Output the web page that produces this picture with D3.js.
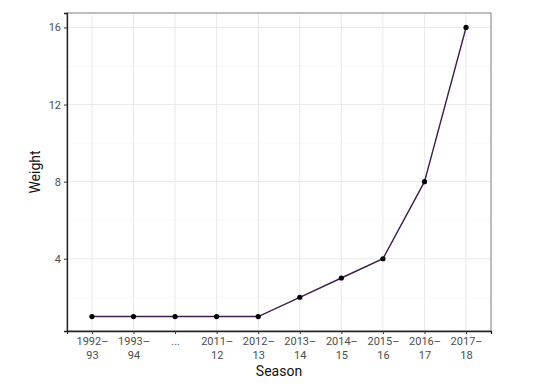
<!DOCTYPE html>
<html>
<head>
<meta charset="utf-8">
<script src="https://cdn.jsdelivr.net/npm/d3@7"></script>
<style>
  body { margin: 0; background: #fff; }
  text { font-family: Roboto, "Noto Sans", sans-serif; }
</style>
</head>
<body>
<div id="chart"></div>
<script>
// seasons (two-line labels) and weights
const seasons = ['1992–|93', '1993–|94', '...', '2011–|12', '2012–|13', '2013–|14', '2014–|15', '2015–|16', '2016–|17', '2017–|18'];
const weights = [1, 1, 1, 1, 1, 2, 3, 4, 8, 16];
const yTicks = [4, 8, 12, 16];
const yMinor = [2, 6, 10, 14];

const width = 554, height = 388;
const margin = { top: 13, right: 63, bottom: 57, left: 67 };
const w = width - margin.left - margin.right;
const h = height - margin.top - margin.bottom;

const svg = d3.select('#chart').append('svg')
  .attr('width', width).attr('height', height);
const g = svg.append('g').attr('transform', `translate(${margin.left},${margin.top})`);

const data = seasons.map((s, i) => ({ season: s, weight: weights[i] }));

// discrete x with ggplot-like expansion
const x = d3.scalePoint().domain(seasons).range([0, w]).padding(0.6);
const y = d3.scaleLinear().domain([0.25, 16.75]).range([h, 0]);

// grid
g.selectAll('.minor').data(yMinor).enter().append('line')
  .attr('x1', 0).attr('x2', w)
  .attr('y1', d => y(d)).attr('y2', d => y(d))
  .attr('stroke', '#f4f4f4').attr('stroke-width', 0.6);
g.selectAll('.majorY').data(yTicks).enter().append('line')
  .attr('x1', 0).attr('x2', w)
  .attr('y1', d => y(d)).attr('y2', d => y(d))
  .attr('stroke', '#ebebeb').attr('stroke-width', 1.1);
g.selectAll('.majorX').data(seasons).enter().append('line')
  .attr('x1', d => x(d)).attr('x2', d => x(d))
  .attr('y1', 0).attr('y2', h)
  .attr('stroke', '#ebebeb').attr('stroke-width', 1.1);

// panel border
g.append('rect').attr('width', w).attr('height', h)
  .attr('fill', 'none').attr('stroke', '#7f7f7f').attr('stroke-width', 1);

// axes
const yAxis = g.append('g')
  .call(d3.axisLeft(y).tickValues(yTicks).tickSize(3).tickPadding(3));
const xAxis = g.append('g').attr('transform', `translate(0,${h})`)
  .call(d3.axisBottom(x).tickSize(3).tickPadding(3).tickFormat(''));

[yAxis, xAxis].forEach(a => {
  a.select('.domain').attr('stroke', '#222').attr('stroke-width', 1.3);
  a.selectAll('.tick line').attr('stroke', '#333');
});
yAxis.selectAll('.tick text')
  .attr('fill', '#4d4d4d').style('font-size', '11px');

xAxis.selectAll('.tick').each(function (d) {
  const parts = d.split('|');
  const t = d3.select(this).append('text')
    .attr('fill', '#4d4d4d').attr('text-anchor', 'middle')
    .style('font-size', '11px');
  parts.forEach((p, i) => {
    t.append('tspan').attr('x', 0).attr('y', 14 + i * 13.5).text(p);
  });
});

// line and points
const line = d3.line().x(d => x(d.season)).y(d => y(d.weight));
g.append('path').datum(data)
  .attr('d', line)
  .attr('fill', 'none')
  .attr('stroke', '#3d1f4a')
  .attr('stroke-width', 1.4);
g.selectAll('.pt').data(data).enter().append('circle')
  .attr('cx', d => x(d.season)).attr('cy', d => y(d.weight))
  .attr('r', 2.6).attr('fill', '#000');

// axis titles
svg.append('text')
  .attr('x', margin.left + w / 2).attr('y', 376)
  .attr('text-anchor', 'middle')
  .style('font-size', '14px').attr('fill', '#111')
  .text('Season');
svg.append('text')
  .attr('transform', `translate(40,${margin.top + h / 2}) rotate(-90)`)
  .attr('text-anchor', 'middle')
  .style('font-size', '14px').attr('fill', '#111')
  .text('Weight');
</script>
</body>
</html>
